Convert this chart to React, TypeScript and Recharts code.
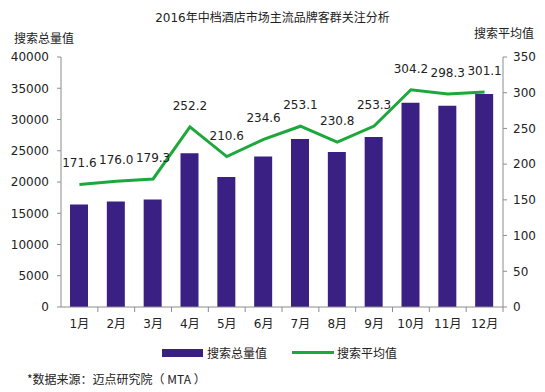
import React from 'react'
import {
  ComposedChart,
  Bar,
  Line,
  XAxis,
  YAxis,
  LabelList,
} from 'recharts'

const months = ['1月', '2月', '3月', '4月', '5月', '6月', '7月', '8月', '9月', '10月', '11月', '12月']
const totalSearch = [16400, 16900, 17200, 24600, 20800, 24100, 26900, 24800, 27200, 32700, 32200, 34100]
const avgSearch = [171.6, 176.0, 179.3, 252.2, 210.6, 234.6, 253.1, 230.8, 253.3, 304.2, 298.3, 301.1]
const leftTicks = [0, 5000, 10000, 15000, 20000, 25000, 30000, 35000, 40000]
const rightTicks = [0, 50, 100, 150, 200, 250, 300, 350]

const BAR = '#3b2083'
const LINE = '#1ca83a'
const AXIS = '#8c8c8c'
const FONT = '"DejaVu Sans", "Noto Sans CJK SC", sans-serif'
const CJK = '"Noto Sans CJK SC", "Noto Sans", sans-serif'
const TEXT = '#222'

const data = months.map((m, i) => ({ month: m, total: totalSearch[i], avg: avgSearch[i] }))

// half a category band, for Excel-style tick marks between categories
const HALF = 442 / 24

function MonthTick(props: any) {
  const { x, y, payload } = props
  return (
    <g>
      <line x1={x + HALF} x2={x + HALF} y1={y - 8} y2={y - 3} stroke={AXIS} />
      <text x={x} y={y + 13} textAnchor="middle" fontSize={12} fill={TEXT} fontFamily={FONT}>
        {payload.value}
      </text>
    </g>
  )
}

export default function App() {
  return (
    <div style={{ position: 'absolute', left: 0, top: 0, width: 545, height: 392, background: '#fff', fontFamily: CJK, color: TEXT }}>
      <div style={{ position: 'absolute', top: 8, width: 545, textAlign: 'center', fontSize: 12, fontFamily: FONT }}>
        2016年中档酒店市场主流品牌客群关注分析
      </div>
      <div style={{ position: 'absolute', top: 29, left: 14, fontSize: 12 }}>搜索总量值</div>
      <div style={{ position: 'absolute', top: 24, left: 474, fontSize: 12 }}>搜索平均值</div>
      <ComposedChart
        width={545}
        height={392}
        data={data}
        margin={{ top: 57, right: 7, bottom: 65, left: 11 }}
      >
        <XAxis
          dataKey="month"
          tick={<MonthTick />}
          tickLine={false}
          axisLine={{ stroke: AXIS }}
          height={20}
          interval={0}
        />
        <YAxis
          yAxisId="left"
          domain={[0, 40000]}
          ticks={leftTicks}
          width={50}
          axisLine={{ stroke: AXIS }}
          tickLine={{ stroke: AXIS }}
          tickSize={4}
          tickMargin={8}
          tick={{ fontSize: 12, fill: TEXT, fontFamily: FONT }}
          interval={0}
        />
        <YAxis
          yAxisId="right"
          orientation="right"
          domain={[0, 350]}
          ticks={rightTicks}
          width={35}
          axisLine={{ stroke: AXIS }}
          tickLine={{ stroke: AXIS }}
          tickSize={4}
          tickMargin={6}
          tick={{ fontSize: 12, fill: TEXT, fontFamily: FONT }}
          interval={0}
        />
        <Bar yAxisId="left" dataKey="total" fill={BAR} barSize={18} isAnimationActive={false} />
        <Line
          yAxisId="right"
          dataKey="avg"
          stroke={LINE}
          strokeWidth={3}
          dot={false}
          isAnimationActive={false}
        >
          <LabelList
            dataKey="avg"
            position="top"
            offset={17}
            formatter={(v: any) => Number(v).toFixed(1)}
            style={{ fontSize: 12, fill: TEXT, fontFamily: FONT }}
          />
        </Line>
      </ComposedChart>
      <div style={{ position: 'absolute', top: 344, left: 162, display: 'flex', alignItems: 'center', fontSize: 12 }}>
        <span style={{ display: 'inline-block', width: 41, height: 8, background: BAR, marginRight: 4 }} />
        <span>搜索总量值</span>
        <span style={{ display: 'inline-block', width: 42, height: 3, background: LINE, marginLeft: 25, marginRight: 3 }} />
        <span>搜索平均值</span>
      </div>
      <div style={{ position: 'absolute', top: 370, left: 27, fontSize: 12 }}>*数据来源：迈点研究院（ MTA ）</div>
    </div>
  )
}
